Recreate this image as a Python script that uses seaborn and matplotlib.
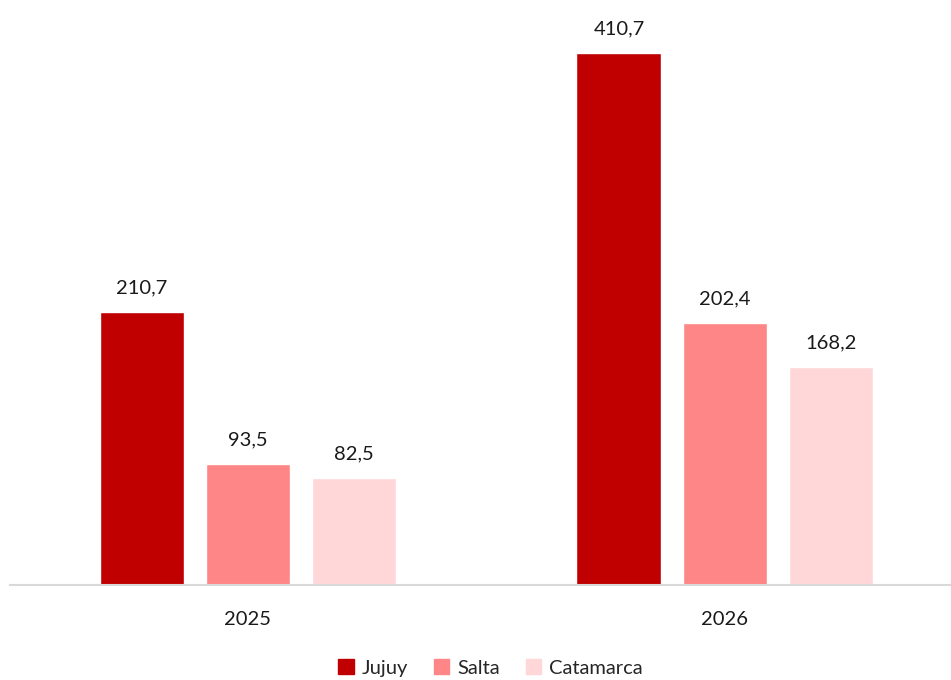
import matplotlib
matplotlib.use("Agg")
import matplotlib.pyplot as plt
import pandas as pd
import seaborn as sns

years = ["2025", "2026"]
provinces = ["Jujuy", "Salta", "Catamarca"]
jujuy = [210.7, 410.7]
salta = [93.5, 202.4]
catamarca = [82.5, 168.2]
colors = ["#C00000", "#FF8686", "#FFD7D9"]

df = pd.DataFrame(
    {
        "year": years * 3,
        "province": [p for p in provinces for _ in years],
        "value": jujuy + salta + catamarca,
    }
)

sns.set_theme(style="white")
plt.rcParams["font.family"] = ["Lato", "DejaVu Sans"]

fig = plt.figure(figsize=(9.51, 6.80), dpi=100)
ax = fig.add_axes([10 / 951, 95 / 680, 941 / 951, 585 / 680])

sns.barplot(
    data=df,
    x="year",
    y="value",
    hue="province",
    hue_order=provinces,
    palette=colors,
    width=0.667,
    gap=0.2,
    saturation=1,
    ax=ax,
    legend=False,
)

for container in ax.containers:
    labels = [f"{v:.1f}".replace(".", ",") for v in container.datavalues]
    ax.bar_label(container, labels=labels, padding=11, fontsize=14.5, color="#1a1a1a")

ax.set_xlim(-0.499, 1.474)
ax.set_ylim(0, 451.6)
ax.set_xlabel("")
ax.set_ylabel("")
ax.set_yticks([])
ax.tick_params(axis="x", length=0, labelsize=14.5, pad=19, colors="#1a1a1a")
for side in ["top", "right", "left"]:
    ax.spines[side].set_visible(False)
ax.spines["bottom"].set_color("#D9D9D9")
ax.spines["bottom"].set_linewidth(1.5)

handles = [plt.Rectangle((0, 0), 1, 1, color=c) for c in colors]
fig.legend(
    handles,
    provinces,
    loc="lower center",
    bbox_to_anchor=(0.516, -0.022),
    ncol=3,
    frameon=False,
    fontsize=14.5,
    handlelength=0.75,
    handleheight=0.75,
    handletextpad=0.4,
    columnspacing=1.3,
)

fig.savefig("out.png", dpi=100)
